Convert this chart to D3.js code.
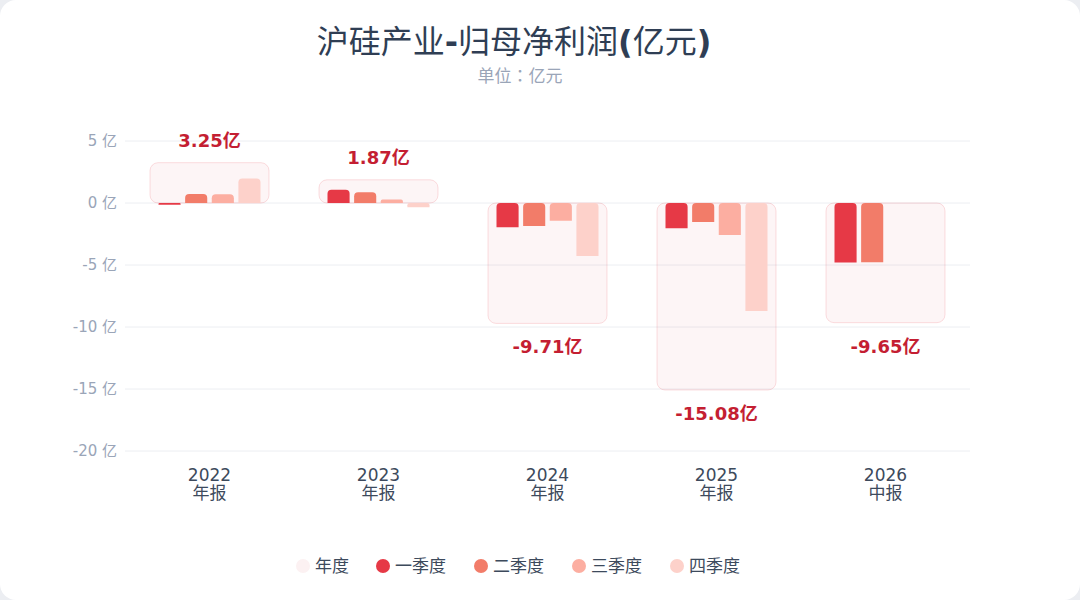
<!DOCTYPE html>
<html><head><meta charset="utf-8">
<script src="https://cdn.jsdelivr.net/npm/d3@7"></script>
<style>
html,body{margin:0;padding:0;background:#eceef2;}
svg{display:block;}
text{font-family:"DejaVu Sans","Noto Sans CJK SC",sans-serif;}
</style></head>
<body>
<svg id="c" width="1080" height="600"></svg>
<script>
const years = ['2022','2023','2024','2025','2026'];
const periods = ['年报','年报','年报','年报','中报'];
const annual = [3.25,1.87,-9.71,-15.08,-9.65];
const q1 = [-0.15,1.07,-1.96,-2.04,-4.80];
const q2 = [0.73,0.87,-1.85,-1.53,-4.78];
const q3 = [0.70,0.28,-1.43,-2.58,null];
const q4 = [1.97,-0.35,-4.27,-8.71,null];
const yTicks = [5,0,-5,-10,-15,-20];
const seriesNames = ['一季度','二季度','三季度','四季度'];
const seriesColors = ['#e63946','#f27c69','#fcaea1','#fdd1ca'];
const title = '沪硅产业-归母净利润(亿元)';
const subtitle = '单位：亿元';

const svg = d3.select('#c');
svg.append('rect').attr('x',0).attr('y',0).attr('width',1080).attr('height',600).attr('rx',16).attr('fill','#fff');

const x = d3.scaleBand().domain(years).range([125,970]);
const y = d3.scaleLinear().domain([-20,5]).range([451,141]);
const qx = d3.scaleBand().domain([0,1,2,3]).range([-51,51]).paddingInner(0.17);

// title: ASCII punctuation rendered bold, CJK regular (as in reference)
const tt = svg.append('text').attr('x',514).attr('y',53).attr('text-anchor','middle')
  .attr('font-size',32).attr('fill','#2f3e54');
title.split(/([-()])/).filter(s=>s.length).forEach(s=>{
  tt.append('tspan').attr('font-weight',/^[-()]$/.test(s)?'bold':'normal').text(s);
});
svg.append('text').attr('x',520).attr('y',82).attr('text-anchor','middle')
  .attr('font-size',17).attr('fill','#9aa5b8')
  .style('font-family','"Noto Sans CJK TC",sans-serif').text(subtitle);

// grid
const g = svg.append('g');
g.selectAll('line.grid').data(yTicks).join('line')
  .attr('x1',125).attr('x2',970).attr('y1',d=>y(d)).attr('y2',d=>y(d))
  .attr('stroke','#eceef2').attr('stroke-width',1);
g.selectAll('text.yt').data(yTicks).join('text')
  .attr('x',117).attr('y',d=>y(d)+5).attr('text-anchor','end')
  .attr('font-size',15).attr('fill','#9aa5b8').text(d=>d+' 亿');

// annual boxes
const boxW = 119;
years.forEach((yr,i)=>{
  const cx = x(yr)+x.bandwidth()/2;
  const v = annual[i];
  const top = y(Math.max(0,v)), bot = y(Math.min(0,v));
  svg.append('rect').attr('x',cx-boxW/2).attr('y',top).attr('width',boxW).attr('height',bot-top)
    .attr('rx',8).attr('fill','rgba(210,60,80,0.05)').attr('stroke','rgba(230,57,70,0.16)').attr('stroke-width',1);
});

function barPath(x0,w,ya,yb,r){
  const t=Math.min(ya,yb), b=Math.max(ya,yb);
  const h=b-t; const rr=Math.min(r,h/2,w/2);
  return `M${x0},${b}L${x0},${t+rr}Q${x0},${t} ${x0+rr},${t}L${x0+w-rr},${t}Q${x0+w},${t} ${x0+w},${t+rr}L${x0+w},${b}Z`;
}
const qs=[q1,q2,q3,q4];
years.forEach((yr,i)=>{
  const cx = x(yr)+x.bandwidth()/2;
  qs.forEach((arr,k)=>{
    const v=arr[i]; if(v==null) return;
    svg.append('path').attr('d',barPath(cx+qx(k),qx.bandwidth(),y(0),y(v),4))
      .attr('fill',seriesColors[k]);
  });
  const v=annual[i];
  const ly = v>=0 ? y(v)-16 : y(v)+30;
  svg.append('text').attr('x',cx).attr('y',ly).attr('text-anchor','middle')
    .attr('font-size',18).attr('font-weight','bold').attr('fill','#c41e32')
    .text(v.toFixed(2)+'亿');
  svg.append('text').attr('x',cx).attr('y',481).attr('text-anchor','middle')
    .attr('font-size',17).attr('fill','#3d4a5c').text(yr);
  svg.append('text').attr('x',cx).attr('y',499).attr('text-anchor','middle')
    .attr('font-size',17).attr('fill','#3d4a5c').text(periods[i]);
});

// legend
const legendItems=[{n:'年度',c:'#fcf1f2'}].concat(seriesNames.map((n,k)=>({n,c:seriesColors[k]})));
const lx=[303,383,481,579,677];
legendItems.forEach((d,i)=>{
  svg.append('circle').attr('cx',lx[i]).attr('cy',566).attr('r',7).attr('fill',d.c);
  svg.append('text').attr('x',lx[i]+12).attr('y',572).attr('font-size',17).attr('fill','#3d4a5c').text(d.n);
});
</script>
</body></html>
